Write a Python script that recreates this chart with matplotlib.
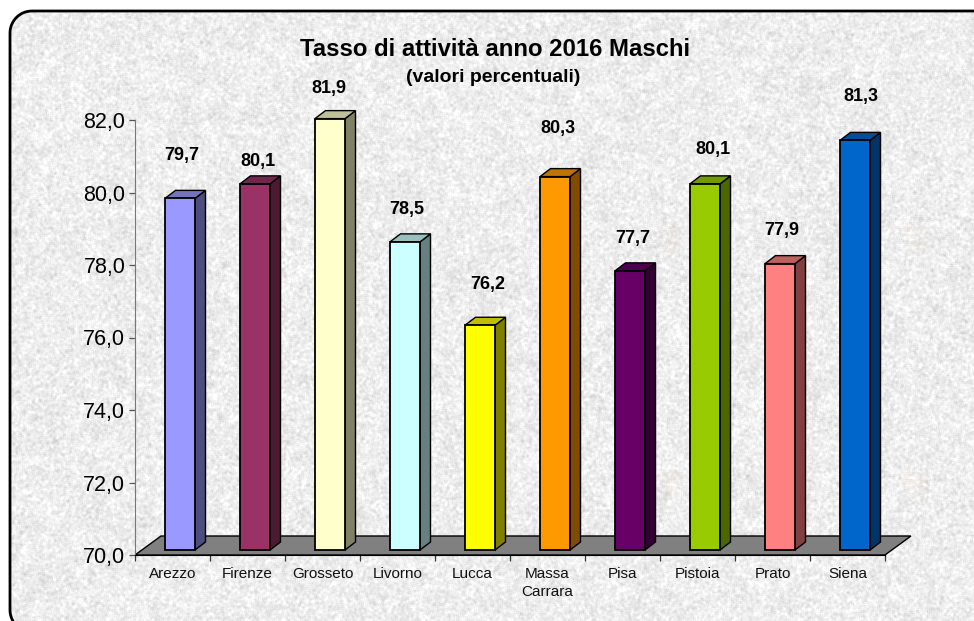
import numpy as np
from matplotlib import pyplot as plt
from matplotlib.patches import PathPatch, Polygon, Rectangle
from matplotlib.path import Path

plt.rcParams['font.family'] = ['Liberation Sans', 'DejaVu Sans']

province = ['Arezzo', 'Firenze', 'Grosseto', 'Livorno', 'Lucca', 'Massa\nCarrara',
            'Pisa', 'Pistoia', 'Prato', 'Siena']
tasso = [79.7, 80.1, 81.9, 78.5, 76.2, 80.3, 77.7, 80.1, 77.9, 81.3]
front = ['#9999FF', '#993366', '#FFFFCC', '#CCFFFF', '#FFFF00',
         '#FF9900', '#660066', '#99CC00', '#FF8080', '#0066CC']
yticks = [70, 72, 74, 76, 78, 80, 82]
ytick_labels = ['70,0', '72,0', '74,0', '76,0', '78,0', '80,0', '82,0']
# scostamento in px dell'etichetta rispetto alla cima della barra
label_gap = [43, 22, 30, 32, 41, 48, 32, 34, 33, 44]
label_dx = [2, 3, -1, 2, 8, 3, 3, 8, 2, 6]

W, H = 974, 621


def shade(col, k):
    r = plt.matplotlib.colors.to_rgb(col)
    return tuple(c * k for c in r)


def blur(a, n):
    k = np.ones(n) / n
    a = np.apply_along_axis(lambda m: np.convolve(m, k, mode='same'), 0, a)
    a = np.apply_along_axis(lambda m: np.convolve(m, k, mode='same'), 1, a)
    return a


def frame_points(x0, y0, x1, y1, r):
    # bordo sinistro con angoli tondi, da in basso a destra passando per l'alto
    t = np.linspace(0, np.pi / 2, 16)
    low = np.column_stack([x0 + r - r * np.sin(t), y1 - r + r * np.cos(t)])
    up = np.column_stack([x0 + r - r * np.cos(t), y0 + r - r * np.sin(t)])
    return np.vstack([low, up, [[x1, y0]]])


fig = plt.figure(figsize=(W / 100, H / 100), dpi=100, facecolor='white')

# sfondo a grana
bg = fig.add_axes([0, 0, 1, 1], zorder=0)
bg.set_xlim(0, W)
bg.set_ylim(H, 0)
bg.axis('off')
rng = np.random.default_rng(4)

fine = blur(rng.normal(size=(H, W)), 3)
coarse = blur(rng.normal(size=(H, W)), 13)
tex = 0.93 + 0.03 * fine / fine.std() + 0.01 * coarse / coarse.std()
im = bg.imshow(np.clip(tex, 0, 1), cmap='gray', vmin=0, vmax=1, extent=(0, W, H, 0),
               aspect='auto', interpolation='bilinear')
pts = frame_points(10, 11, W + 10, 632, 22)
border = PathPatch(Path(pts), fc='none', ec='black', lw=2.0, zorder=3)
bg.add_patch(border)
clip_shape = Polygon(np.vstack([pts, [[W + 10, 660], [32, 660]]]), closed=True, fc='none', ec='none',
                     transform=bg.transData)
im.set_clip_path(clip_shape)

# filigrana chiara dello sfondo
for wx in (657, 903):
    for wy in (227, 472):
        for k in range(4):
            bg.add_patch(Rectangle((wx + k * 2, wy + k * 7), 27 - k * 4, 5, fc='#E8D6BC',
                                   ec='none', alpha=0.14, zorder=1))

# area del grafico
left, right, top, bottom = 135, 885, 120, 555
ax = fig.add_axes([left / W, 1 - bottom / H, (right - left) / W, (bottom - top) / H], zorder=2)
ax.patch.set_alpha(0)
ax.set_xlim(0, len(province))
ax.set_ylim(70, 82)
px = len(province) / (right - left)
py = 12 / (bottom - top)

# pavimento
floor_dx, floor_dy = 26 * px, 19 * py
ax.add_patch(Polygon([(0, 70), (10, 70), (10 + floor_dx, 70 + floor_dy), (floor_dx, 70 + floor_dy)],
                     closed=True, fc='#808080', ec='black', lw=1.0, clip_on=False, zorder=1))

# barre 3d
off_x, off_y = 7.5 * px, 5 * py
bw, dx, dy = 30 * px, 10.5 * px, 8 * py
for i, (v, c) in enumerate(zip(tasso, front)):
    x0 = i + 0.5 + off_x - bw / 2
    x1 = x0 + bw
    y0 = 70 + off_y
    y1 = v + off_y
    ax.add_patch(Polygon([(x1, y0), (x1 + dx, y0 + dy), (x1 + dx, y1 + dy), (x1, y1)],
                         fc=shade(c, 0.5), ec='black', lw=1.0, clip_on=False, zorder=2))
    ax.add_patch(Polygon([(x0, y1), (x1, y1), (x1 + dx, y1 + dy), (x0 + dx, y1 + dy)],
                         fc=shade(c, 0.75), ec='black', lw=1.0, clip_on=False, zorder=2))
    ax.bar(x0, v - 70, bottom=y0, width=bw, align='edge', color=c, edgecolor='black',
           linewidth=1.3, clip_on=False, zorder=3)
    ax.annotate(f'{v:.1f}'.replace('.', ','), (x0 + bw / 2, y1), xytext=(label_dx[i], label_gap[i]),
                textcoords='offset pixels', ha='center', va='center', fontsize=13,
                fontweight='bold', color='black', annotation_clip=False)

ax.set_yticks(yticks)
ax.set_yticklabels(ytick_labels, fontsize=15.5, color='black')
ax.set_xticks(np.arange(0, 11))
ax.set_xticklabels([])
ax.set_xticks(np.arange(len(province)) + 0.5, minor=True)
ax.set_xticklabels(province, minor=True, fontsize=11, linespacing=1.4, va='top', color='#111111')
ax.tick_params(axis='x', which='major', length=4, width=0.9, color='#333333')
ax.tick_params(axis='x', which='minor', length=0, pad=8.5)
ax.tick_params(axis='y', length=4, width=0.9, color='#555555', pad=3)
for s in ['top', 'right']:
    ax.spines[s].set_visible(False)
ax.spines['left'].set_color('#777777')
ax.spines['bottom'].set_color('black')

fig.text(495 / W, 1 - 49.5 / H, 'Tasso di attività anno 2016 Maschi', ha='center', va='center',
         fontsize=17.2, fontweight='bold')
fig.text(493 / W, 1 - 77.5 / H, '(valori percentuali)', ha='center', va='center',
         fontsize=14, fontweight='bold')

fig.savefig('out.png', dpi=100)
plt.close(fig)
